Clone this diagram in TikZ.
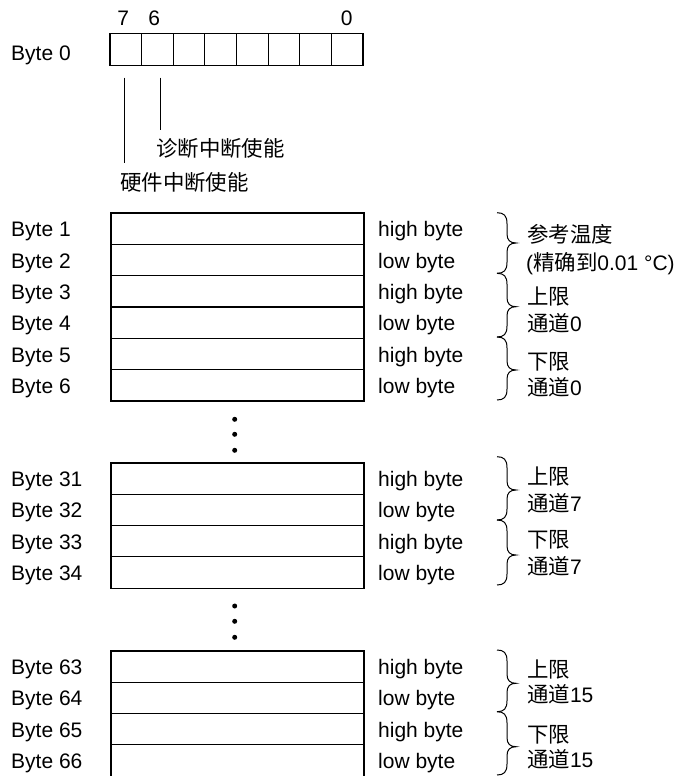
\documentclass[tikz,border=0pt]{standalone}
\usepackage{fontspec}
\setmainfont{Liberation Sans}
\newfontfamily\cjk{Noto Sans CJK SC}[Scale=1.02]
\newcommand{\mybrace}[3]{%
  \draw[brc] (497,#1) .. controls (504,#1) and (507,{#1+3}) .. (507,{#1+11}) -- (507,{#2-9})
    .. controls (507,{#2-3}) and (510,#2) .. (516,#2) .. controls (510,#2) and (507,{#2+3}) .. (507,{#2+9})
    -- (507,{#3-11}) .. controls (507,{#3-3}) and (504,#3) .. (497,#3);}
\begin{document}
\begin{tikzpicture}[x=1pt,y=-1pt,font=\fontsize{21}{25}\selectfont,
  lbl/.style={anchor=base west,inner sep=0pt},
  num/.style={anchor=base,inner sep=0pt},
  cell/.style={draw,line width=1.1pt,minimum width=31.625pt,minimum height=32.4pt,inner sep=0pt},
  rowbox/.style={draw,line width=1.1pt,minimum width=253pt,minimum height=31.3pt,inner sep=0pt},
  dotm/.style={circle,fill,inner sep=0pt,minimum size=5pt},
  brc/.style={line width=1pt},
  lead/.style={line width=0.9pt}]
\useasboundingbox (0,0) rectangle (677,776);

% Byte 0
\node[lbl] (b0) at (11,60) {Byte 0};
\foreach \c in {0,...,7}{
  \pgfmathtruncatemacro{\b}{7-\c}
  \node[cell] (bit\b) at ({125.8+31.625*\c},49.5) {};
}
\node[num] (n7) at (123.3,26) {7};
\node[num] (n6) at (154.3,26) {6};
\node[num] (n0) at (346.7,26) {0};

\coordinate (l7a) at (124.3,77.7);
\coordinate (l7b) at (124.3,163.3);
\coordinate (l6a) at (160,77.7);
\coordinate (l6b) at (160,130);
\draw[lead] (l7a) -- (l7b);
\draw[lead] (l6a) -- (l6b);
\node[lbl] (t6) at (156,156) {\cjk 诊断中断使能};
\node[lbl] (t7) at (120,190) {\cjk 硬件中断使能};

% rows
\foreach \n/\y/\t in {1/228.67/high,2/260/low,3/291.33/high,4/322.67/low,5/354/high,6/385.33/low,
                      31/478.6/high,32/509.9/low,33/541.1/high,34/572.4/low,
                      63/666.6/high,64/697.9/low,65/729.1/high,66/760.4/low}{
  \node[rowbox] (r\n) at (237.5,\y) {};
  \node[lbl] (b\n) at (11,{\y+8}) {Byte \n};
  \node[lbl] (h\n) at (378,{\y+8}) {\t\ byte};
}

% dots
\foreach \k/\y in {1/419.3,2/434.3,3/450.3,4/606,5/621.3,6/637.3}{
  \node[dotm] (d\k) at (234.7,\y) {};
}

% braces
\mybrace{212.7}{243}{273.3}
\mybrace{273.3}{306.7}{337}
\mybrace{337}{370}{400}
\mybrace{456.7}{490}{520}
\mybrace{520}{555}{585}
\mybrace{650}{683.3}{711.7}
\mybrace{711.7}{746.7}{775}

% brace texts
\node[lbl] (g1a) at (527,242.5) {\cjk 参考温度};
\node[lbl] (g1b) at (526,270.5) {({\cjk 精确到}0.01 °C)};
\node[lbl] (g2a) at (527,304.5) {\cjk 上限};
\node[lbl] (g2b) at (527,331.5) {{\cjk 通道}0};
\node[lbl] (g3a) at (527,369.5) {\cjk 下限};
\node[lbl] (g3b) at (527,395.5) {{\cjk 通道}0};
\node[lbl] (g4a) at (527,484) {\cjk 上限};
\node[lbl] (g4b) at (527,511) {{\cjk 通道}7};
\node[lbl] (g5a) at (527,547.5) {\cjk 下限};
\node[lbl] (g5b) at (527,574) {{\cjk 通道}7};
\node[lbl] (g6a) at (527,677.5) {\cjk 上限};
\node[lbl] (g6b) at (527,702.5) {{\cjk 通道}15};
\node[lbl] (g7a) at (527,742.5) {\cjk 下限};
\node[lbl] (g7b) at (527,767.5) {{\cjk 通道}15};
\end{tikzpicture}
\end{document}
